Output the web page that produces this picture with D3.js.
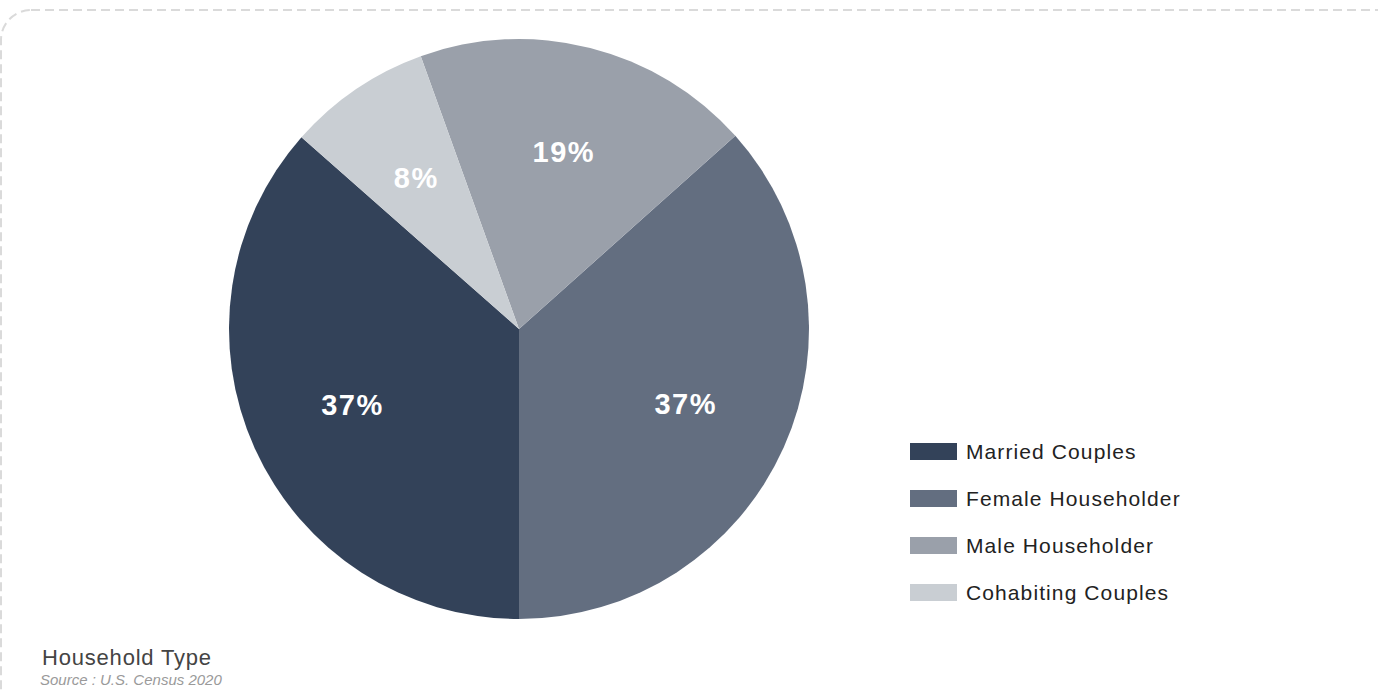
<!DOCTYPE html>
<html>
<head>
<meta charset="utf-8">
<script src="https://cdn.jsdelivr.net/npm/d3@7"></script>
<style>
  body { margin: 0; background: #fff; }
  svg { display: block; font-family: "Liberation Sans", Arial, sans-serif; }
</style>
</head>
<body>
<svg id="main-chart"></svg>
<script>
const categories = ["Married Couples", "Female Householder", "Male Householder", "Cohabiting Couples"];
const shares = [36.5, 36.6, 18.9, 8.0];
const colors = ["#334259", "#636e80", "#9aa0aa", "#c9ced3"];

function plotchart()
{
  const width = 1378;
  const height = 693;
  const radius = 290;
  const cx = 519, cy = 329;
  const start = -48.6 * Math.PI / 180;

  const data = categories.map((name, i) => ({name: name, value: shares[i], color: colors[i]}));

  const svg = d3.select("#main-chart")
      .attr("width", width)
      .attr("height", height);

  // dashed frame, runs off the right and bottom edges
  svg.append("rect")
      .attr("x", 1)
      .attr("y", 10)
      .attr("width", 1420)
      .attr("height", 760)
      .attr("rx", 30)
      .attr("fill", "none")
      .attr("stroke", "#dadada")
      .attr("stroke-width", 2)
      .attr("stroke-dasharray", "9 5");

  const pie = d3.pie()
      .sort(null)
      .value(d => d.value)
      .startAngle(start)
      .endAngle(start - 2 * Math.PI);

  const arc = d3.arc().innerRadius(0).outerRadius(radius);
  const labelArc = d3.arc().innerRadius(radius * 0.63).outerRadius(radius * 0.63);

  const arcs = pie(data);

  const g = svg.append("g")
      .attr("transform", `translate(${cx},${cy})`);

  g.selectAll("path")
    .data(arcs)
    .join("path")
      .attr("fill", d => d.data.color)
      .attr("d", arc);

  g.selectAll("text")
    .data(arcs)
    .join("text")
      .attr("transform", d => `translate(${labelArc.centroid(d)})`)
      .attr("text-anchor", "middle")
      .attr("dy", "0.36em")
      .attr("fill", "#fff")
      .attr("font-weight", "bold")
      .attr("font-size", 29)
      .attr("letter-spacing", 1.5)
      .text(d => `${Math.round(d.data.value)}%`);

  // legend
  const legend = svg.append("g")
      .attr("transform", "translate(910,443)");

  const row = legend.selectAll("g")
    .data(data)
    .join("g")
      .attr("transform", (d, i) => `translate(0,${i * 47})`);

  row.append("rect")
      .attr("width", 47)
      .attr("height", 17)
      .attr("fill", d => d.color);

  row.append("text")
      .attr("x", 56)
      .attr("y", 9)
      .attr("dy", "0.35em")
      .attr("font-size", 21)
      .attr("letter-spacing", 1.1)
      .attr("fill", "#222")
      .text(d => d.name);

  svg.append("text")
      .attr("x", 42)
      .attr("y", 665)
      .attr("font-size", 22)
      .attr("letter-spacing", 0.8)
      .attr("fill", "#444")
      .text("Household Type");

  svg.append("text")
      .attr("x", 40)
      .attr("y", 685)
      .attr("font-size", 15)
      .attr("font-style", "italic")
      .attr("fill", "#9a9a9a")
      .text("Source :  U.S. Census 2020");
}
plotchart();
</script>
</body>
</html>
